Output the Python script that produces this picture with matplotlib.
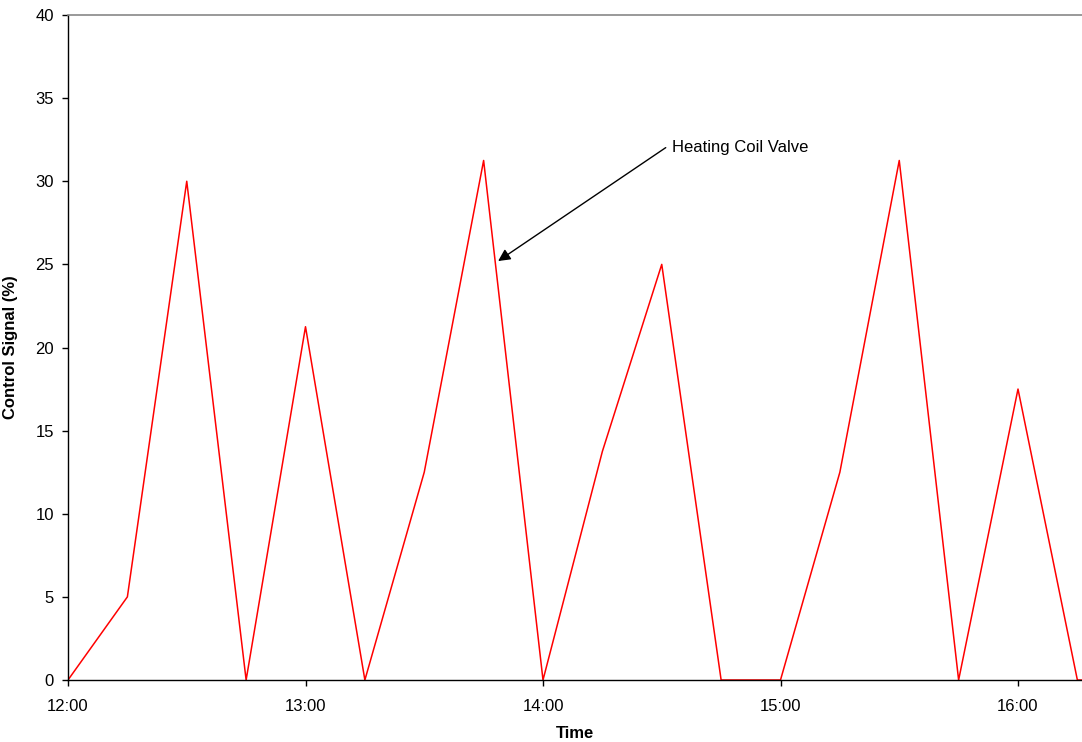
import matplotlib
matplotlib.use("Agg")
import matplotlib.pyplot as plt

plt.rcParams['font.family'] = ['Liberation Sans', 'DejaVu Sans']

# hours after 12:00, one reading every 15 minutes
hours = [0, 0.25, 0.5, 0.75, 1.0, 1.25, 1.5, 1.75, 2.0, 2.25, 2.5, 2.75,
         3.0, 3.25, 3.5, 3.75, 4.0, 4.25, 4.5]
valve = [0, 5, 30, 0, 21.25, 0, 12.5, 31.25, 0, 13.75, 25, 0,
         0, 12.5, 31.25, 0, 17.5, 0, 0]

tick_pos = [0, 1, 2, 3, 4]
tick_labels = ['12:00', '13:00', '14:00', '15:00', '16:00']

fig = plt.figure(figsize=(10.82, 7.42), dpi=100)
ax = fig.add_axes([68 / 1082, 1 - 680 / 742, 1 - 68 / 1082, (680 - 15) / 742])

ax.plot(hours, valve, color='#ff0000', linewidth=1.1)

ax.set_xlim(0, (1082 - 68) / 237.5)
ax.set_ylim(0, 40)
ax.set_yticks(range(0, 45, 5))
ax.set_xticks(tick_pos)
ax.set_xticklabels(tick_labels)
ax.tick_params(labelsize=12, length=4, width=1, direction='out', pad=6)
ax.tick_params(axis='x', pad=10)

ax.spines['right'].set_visible(False)
ax.spines['top'].set_color('#888888')
ax.spines['top'].set_linewidth(1.2)
ax.spines['left'].set_linewidth(1)
ax.spines['bottom'].set_linewidth(1)

ax.set_xlabel('Time', fontsize=12, fontweight='bold', labelpad=8)
ax.set_ylabel('Control Signal (%)', fontsize=12, fontweight='bold')
ax.yaxis.set_label_coords(-0.049, 0.5)

ax.annotate('Heating Coil Valve', xy=(1.811, 25.2), xytext=(2.543, 32.05),
            fontsize=12, va='center', ha='left',
            arrowprops=dict(arrowstyle='-|>', color='black', lw=1,
                            mutation_scale=18, shrinkA=3, shrinkB=0,
                            relpos=(0, 0.75)))

plt.savefig('out.png', dpi=100)
